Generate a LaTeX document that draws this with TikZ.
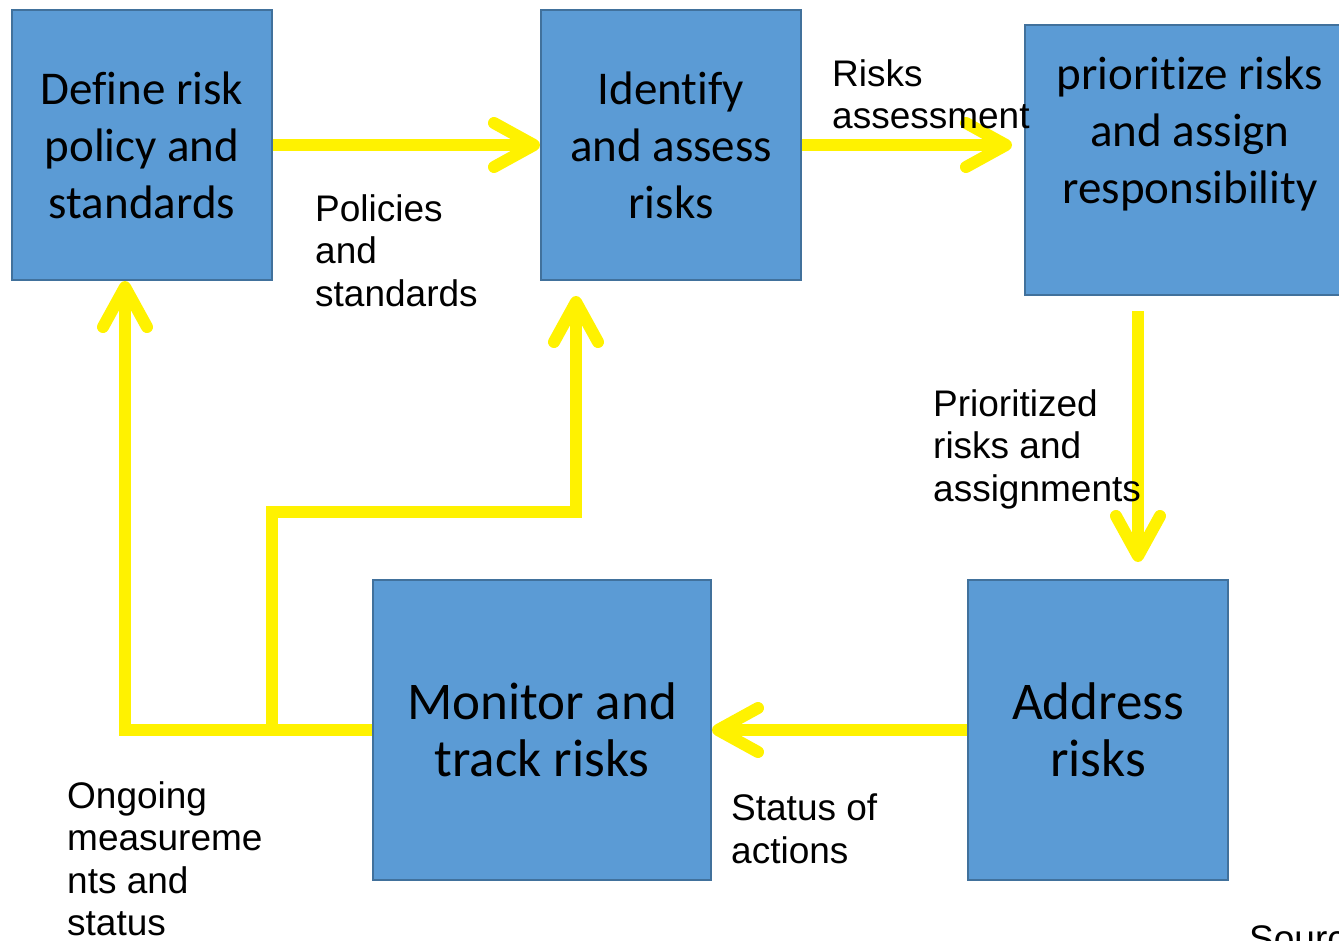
\documentclass[tikz,border=0pt]{standalone}
\usepackage{fontspec}
\setmainfont[Ligatures=NoCommon]{Carlito}
\newfontfamily\labelfont{Liberation Sans}
\usetikzlibrary{arrows.meta,positioning}
\definecolor{boxfill}{HTML}{5B9BD5}
\definecolor{boxedge}{HTML}{41719C}

\begin{document}
\begin{tikzpicture}
[x=1pt,y=-1pt,
 box/.style={rectangle,draw=boxedge,fill=boxfill,line width=2pt,inner sep=0pt,align=center,font=\fontsize{47}{57}\selectfont},
 bigbox/.style={box,font=\fontsize{53}{57}\selectfont},
 flow/.style={draw=yellow,line width=12pt,-{Straight Barb[length=40pt,width=44pt,round]}},
 note/.style={anchor=north west,inner sep=0pt,align=left,font=\labelfont\fontsize{37}{42.5}\selectfont}]
\clip (0,0) rectangle (1339,940);

\node[box,minimum width=260pt,minimum height=270pt] (define) at (142,145) {Define risk\\policy and\\standards};
\node[box,minimum width=260pt,minimum height=270pt] (identify) at (671,145) {Identify\\and assess\\risks};
\node[box,minimum width=330pt,minimum height=270pt] (prioritize) at (1190,160) {prioritize risks\\and assign\\responsibility\\[-14pt] \strut};
\node[bigbox,minimum width=338pt,minimum height=300pt] (monitor) at (542,730) {Monitor and\\track risks};
\node[bigbox,minimum width=260pt,minimum height=300pt] (address) at (1098,730) {Address\\risks};

\coordinate (split) at (272,730);
\coordinate (bend) at (272,512);

\draw[flow] (define.east) -- (identify.west);
\draw[flow,shorten >=12pt] (identify.east) -- (identify.east -| prioritize.west);
\draw[flow] ([xshift=-52pt,yshift=-15pt]prioritize.south) -- ([xshift=40pt,yshift=17pt]address.north);
\draw[flow] (address.west) -- (monitor.east);
\draw[flow] (monitor.west) -| ([xshift=-17pt]define.south);
\draw[flow] (split) -- (bend) -| ([xshift=-95pt,yshift=-15pt]identify.south);

\node[note] (policies) at (315,194) {Policies\\and\\standards};
\node[note] (assessment) at (832,59) {Risks\\assessment};
\node[note] (assignments) at (933,389) {Prioritized\\risks and\\assignments};
\node[note] (status) at (731,794) {Status of\\actions};
\node[note] (ongoing) at (67,781) {Ongoing\\measureme\\nts and\\status};
\node[note] (source) at (1249,925) {Source};
\end{tikzpicture}
\end{document}
